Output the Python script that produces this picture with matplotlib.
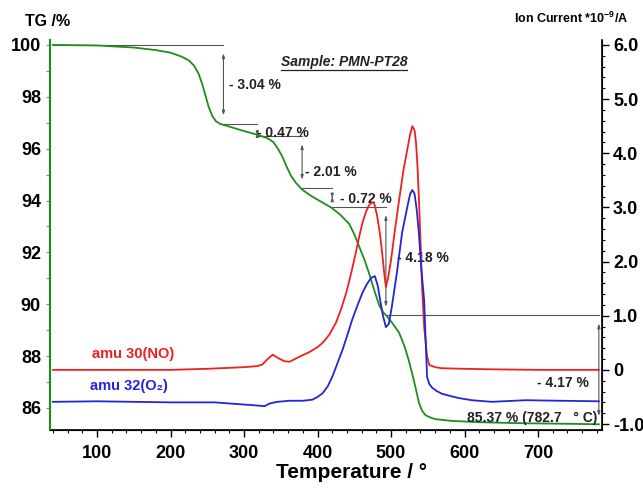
import matplotlib
matplotlib.use("Agg")
import matplotlib.pyplot as plt
from matplotlib.ticker import MultipleLocator, FixedLocator, FixedFormatter

plt.rcParams['font.family'] = ['Liberation Sans', 'DejaVu Sans']
plt.rcParams['font.weight'] = 'bold'
plt.rcParams['mathtext.fontset'] = 'custom'
plt.rcParams['mathtext.rm'] = 'Liberation Sans:bold'
plt.rcParams['mathtext.it'] = 'Liberation Sans:bold'
plt.rcParams['mathtext.bf'] = 'Liberation Sans:bold'

# TG curve (temperature in C, mass in %)
tg_T = [40, 100, 150, 180, 200, 215, 225, 232, 238, 243, 248, 252, 257, 262, 268,
        280, 295, 310, 322, 332, 340, 346, 352, 358, 364, 370, 379, 390, 402, 419,
        431, 443, 450, 457, 464, 470, 477, 484, 489, 493, 501, 511, 518, 524, 529, 534, 538, 542,
        547, 552, 560, 583, 620, 680, 740, 782.7]
tg_val = [100.0, 99.98, 99.9, 99.8, 99.7, 99.55, 99.4, 99.2, 98.9, 98.5, 98.0, 97.6, 97.25, 97.05, 96.95,
          96.85, 96.72, 96.6, 96.5, 96.4, 96.25, 96.0, 95.7, 95.3, 94.95, 94.7, 94.42, 94.2, 94.0, 93.72,
          93.45, 93.1, 92.7, 92.2, 91.7, 91.2, 90.55, 89.95, 89.7, 89.58, 89.3, 88.9, 88.4, 87.85, 87.3, 86.7, 86.2, 85.9,
          85.72, 85.65, 85.57, 85.5, 85.45, 85.41, 85.39, 85.37]

# ion current amu 30 (NO), 1e-9 A
no_T = [40, 100, 200, 250, 300, 318, 325, 332, 339, 346, 355, 362, 375, 389, 400, 407, 416, 425,
        432, 439, 446, 452, 457, 461, 466, 470, 474, 477, 481, 485, 488, 491, 493, 496, 500, 505, 511,
        517, 522, 526, 529, 532, 534, 536, 538, 540, 542, 545, 549, 552, 560, 569, 600, 637, 700, 782.7]
no_val = [0.0, 0.0, 0.0, 0.02, 0.05, 0.07, 0.1, 0.2, 0.28, 0.22, 0.16, 0.15, 0.24, 0.33, 0.42, 0.5, 0.65, 0.87,
          1.12, 1.42, 1.8, 2.16, 2.48, 2.71, 2.92, 3.04, 3.09, 3.08, 2.85, 2.5, 2.15, 1.75, 1.53, 1.7, 2.03, 2.55, 3.14,
          3.7, 4.06, 4.35, 4.5, 4.42, 4.19, 3.75, 3.14, 2.4, 1.6, 0.8, 0.25, 0.09, 0.05, 0.03, 0.02, 0.01, 0.0, 0.0]

# ion current amu 32 (O2), 1e-9 A
o2_T = [40, 100, 200, 260, 290, 310, 320, 328, 335, 345, 362, 380, 393, 400, 407, 414, 420,
        427, 434, 440, 447, 454, 461, 467, 473, 478, 482, 485, 489, 493, 497, 501, 508, 515, 522, 526, 529, 532, 535,
        538, 541, 545, 549, 552, 556, 562, 569, 580, 592, 610, 637, 683, 730, 782.7]
o2_val = [-0.59, -0.58, -0.6, -0.6, -0.63, -0.65, -0.66, -0.67, -0.62, -0.59, -0.57, -0.57, -0.55, -0.5, -0.43, -0.3, -0.13,
          0.12, 0.37, 0.62, 0.92, 1.18, 1.42, 1.58, 1.7, 1.73, 1.55, 1.3, 1.0, 0.79, 0.85, 1.16, 1.8, 2.53, 3.0, 3.25, 3.32, 3.25, 2.95,
          2.5, 1.9, 1.29, -0.13, -0.26, -0.33, -0.39, -0.44, -0.48, -0.52, -0.56, -0.59, -0.56, -0.57, -0.58]

# mass loss steps
step_T = [40, 272, 318, 379, 420, 493, 782.7]
step_level = [100.0, 96.96, 96.49, 94.48, 93.76, 89.58, 85.37]
step_labels = ['- 3.04 %', '- 0.47 %', '- 2.01 %', '- 0.72 %', '- 4.18 %', '- 4.17 %']

green = '#1f8c1f'
red = '#ee2020'
blue = '#2424d8'
grey = '#555555'

fig = plt.figure(figsize=(6.43, 4.91), dpi=100)
ax = fig.add_axes([50 / 643, 61 / 491, 552 / 643, 390 / 491])
ax2 = ax.twinx()

ax.plot(tg_T, tg_val, color=green, lw=1.3, zorder=3)
ax2.plot(no_T, no_val, color=red, lw=1.3)
ax2.plot(o2_T, o2_val, color=blue, lw=1.3)

ax.set_xlim(36, 787)
ax.set_ylim(85.15, 100.19)
ax2.set_ylim(-1.11, 6.09)

# step annotations
for i in range(1, len(step_T)):
    ax.plot([step_T[i - 1], step_T[i]], [step_level[i - 1]] * 2, color=grey, lw=0.8, zorder=2)
    ax.annotate('', xy=(step_T[i], step_level[i]), xytext=(step_T[i], step_level[i - 1]),
                arrowprops=dict(arrowstyle='<|-|>,head_length=0.25,head_width=0.08', color=grey,
                                lw=0.8, shrinkA=6, shrinkB=6), zorder=2)

lab_kw = dict(fontsize=10, fontweight='bold', color='#222222', zorder=5)
ax.text(280, 98.46, step_labels[0], ha='left', va='center', **lab_kw)
ax.text(318, 96.62, step_labels[1], ha='left', va='center', **lab_kw)
ax.text(383, 95.1, step_labels[2], ha='left', va='center', **lab_kw)
ax.text(430, 94.05, step_labels[3], ha='left', va='center', **lab_kw)
ax.text(508, 91.8, step_labels[4], ha='left', va='center', **lab_kw)
ax.text(769, 86.96, step_labels[5], ha='right', va='center', **lab_kw)
ax.text(781, 85.62, '85.37 % (782.7   ° C)', ha='right', va='center', **lab_kw)

ax.text(93, 88.08, 'amu 30(NO)', color=red, fontsize=10.5, fontweight='bold', va='center')
ax.text(90, 86.85, 'amu 32(O\u2082)', color=blue, fontsize=10.5, fontweight='bold', va='center')

# spines and ticks
ax.spines['top'].set_visible(False)
ax2.spines['top'].set_visible(False)
ax2.spines['left'].set_color(green)
ax2.spines['left'].set_linewidth(1.5)
ax.spines['left'].set_color(green)
ax.spines['left'].set_linewidth(1.5)
ax2.spines['right'].set_linewidth(1.2)
ax.spines['bottom'].set_linewidth(1.2)

ax.xaxis.set_major_locator(FixedLocator([100, 200, 300, 400, 500, 600, 700]))
ax.xaxis.set_minor_locator(MultipleLocator(20))
ax.yaxis.set_major_locator(MultipleLocator(2))
ax.yaxis.set_minor_locator(MultipleLocator(1))
ax2.yaxis.set_major_locator(FixedLocator([-1, 0, 1, 2, 3, 4, 5, 6]))
ax2.yaxis.set_major_formatter(FixedFormatter(['-1.0', '0', '1.0', '2.0', '3.0', '4.0', '5.0', '6.0']))
ax2.yaxis.set_minor_locator(MultipleLocator(0.2))

ax.tick_params(axis='x', which='major', length=5, width=1, labelsize=13, pad=6)
ax.tick_params(axis='x', which='minor', length=2.5, width=0.8)
ax.tick_params(axis='y', which='both', length=3, width=0.8, color='#888888', labelsize=13)
ax2.tick_params(axis='y', which='major', length=5, width=1, labelsize=13, pad=3)
ax2.tick_params(axis='y', which='minor', length=2.5, width=0.8)
for t in ax.get_xticklabels() + ax.get_yticklabels() + ax2.get_yticklabels():
    t.set_fontweight('bold')

fig.text(25 / 643, 1 - 22 / 491, 'TG /%', fontsize=11.5, fontweight='bold', ha='left', va='center')
fig.text(628 / 643, 1 - 18 / 491, 'Ion Current *10$^{-9}$/A', fontsize=9, ha='right', va='center')
fig.text(352 / 643, 1 - 473 / 491, 'Temperature / \u00b0', fontsize=15, fontweight='bold',
         ha='center', va='center')

title = ax.text(436, 99.35, 'Sample: PMN-PT28', fontsize=10, fontweight='bold', style='italic',
                ha='center', va='center', color='#222222')
fig.canvas.draw()
bb = title.get_window_extent().transformed(ax.transData.inverted())
ax.plot([bb.x0, bb.x1], [bb.y0 - 0.05] * 2, color='#222222', lw=0.9)

fig.savefig('out.png', dpi=100)
